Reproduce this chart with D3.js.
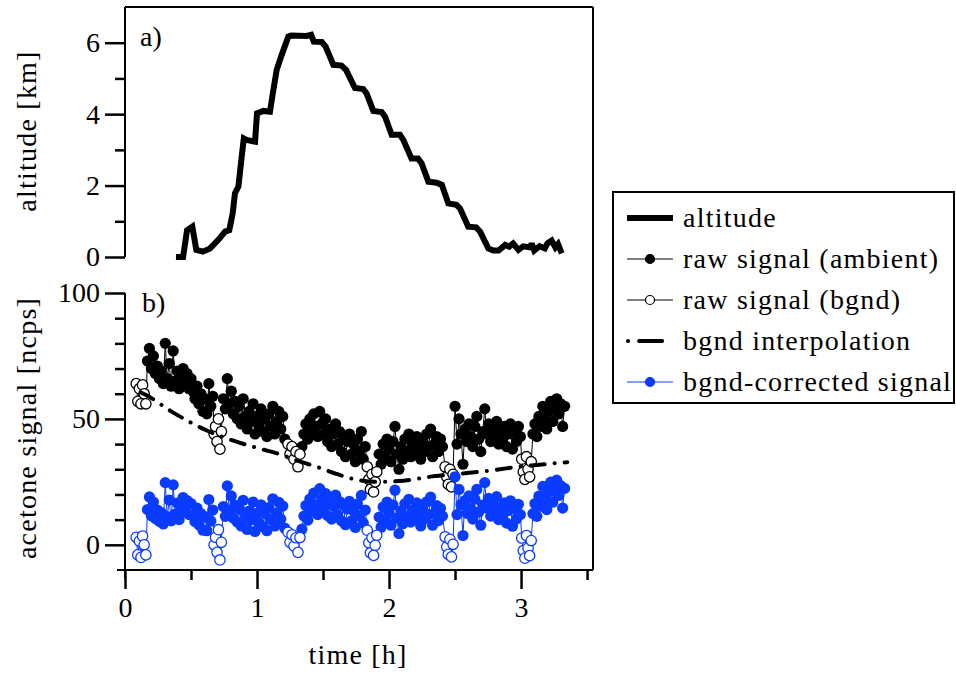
<!DOCTYPE html>
<html>
<head>
<meta charset="utf-8">
<script src="https://cdn.jsdelivr.net/npm/d3@7"></script>
<style>
  body { margin: 0; background: #fff; }
  text { fill: #000; }
</style>
</head>
<body>
<svg id="chart" width="956" height="675"></svg>
<script>
'use strict';

// altitude track (panel a)
const altTime = [0.386, 0.44, 0.47, 0.51, 0.54, 0.59, 0.644, 0.707, 0.758, 0.79, 0.816, 0.833, 0.859, 0.884, 0.90,
    0.92, 0.985, 1.0, 1.048, 1.098, 1.124, 1.149, 1.187, 1.237, 1.26, 1.376, 1.41, 1.43, 1.49, 1.52, 1.578, 1.64,
    1.674, 1.742, 1.805, 1.83, 1.881, 1.944, 1.97, 2.02, 2.083, 2.108, 2.17, 2.22, 2.247, 2.298, 2.361, 2.40, 2.449,
    2.51, 2.538, 2.60, 2.66, 2.69, 2.752, 2.79, 2.83, 2.88, 2.91, 2.94, 2.98, 3.017, 3.07, 3.08, 3.10, 3.14, 3.18,
    3.20, 3.232, 3.26, 3.28, 3.308];
const altKm = [0.0, 0.0, 0.75, 0.85, 0.2, 0.15, 0.24, 0.48, 0.71, 0.75, 1.23, 1.79, 1.97, 2.81, 3.32,
    3.28, 3.23, 4.02, 4.09, 4.07, 4.68, 5.24, 5.66, 6.17, 6.2, 6.19, 6.22, 6.03, 6.02, 5.89, 5.38, 5.36,
    5.24, 4.73, 4.7, 4.58, 4.09, 4.06, 3.93, 3.42, 3.42, 3.28, 2.76, 2.76, 2.62, 2.11, 2.08, 2.02, 1.5,
    1.46, 1.36, 0.85, 0.83, 0.71, 0.24, 0.18, 0.18, 0.34, 0.29, 0.38, 0.2, 0.3, 0.27, 0.38, 0.18, 0.3, 0.24,
    0.38, 0.46, 0.27, 0.36, 0.1];

// ambient measurement segments, one sample every SAMPLE_STEP hours
const SAMPLE_STEP = 0.015;
const ambientStart = [0.17, 0.745, 1.34, 1.925, 2.50, 3.09];
const ambientRaw = [
    [73, 78, 70, 75, 68, 71, 66, 69, 64, 80, 66, 72, 63, 77, 65, 69, 62, 67, 70, 64, 68, 62, 66, 61, 58, 63, 56, 60, 53, 58, 52, 64, 55, 59],
    [58, 54, 66, 56, 61, 52, 57, 50, 55, 48, 58, 51, 46, 53, 49, 56, 44, 51, 47, 54, 45, 50, 43, 52, 47, 55, 44, 49, 53, 46, 51, 42],
    [39, 44, 48, 42, 50, 45, 52, 47, 43, 53, 48, 44, 50, 41, 46, 39, 44, 48, 40, 45, 37, 43, 35, 41, 44, 36, 40, 33, 42, 37, 45, 34, 39],
    [36, 32, 40, 35, 42, 38, 33, 41, 47, 36, 30, 39, 34, 42, 37, 44, 35, 40, 36, 43, 38, 34, 41, 37, 44, 39, 46, 35, 40, 43, 37, 42, 39],
    [55, 40, 50, 44, 32, 46, 41, 48, 43, 39, 47, 51, 42, 37, 45, 54, 44, 48, 41, 46, 43, 49, 40, 45, 42, 47, 39, 44, 48, 38, 45, 41, 47, 43],
    [44, 48, 43, 51, 47, 55, 50, 46, 53, 57, 49, 54, 58, 52, 56, 47, 55]
];
const ambientCorr = [
    [14, 19, 11.5, 17, 10.4, 13.8, 9.3, 12.8, 8.3, 24.7, 11.2, 17.8, 9.5, 23.8, 12.2, 16.6, 10, 15.4, 18.8, 13.2, 17.6, 12, 16.4, 11.8, 9.2, 14.6, 8, 12.4, 5.8, 11.2, 5.6, 18, 9.4, 13.8],
    [15.2, 11.3, 23.4, 13.6, 19.4, 10.6, 15.8, 9, 14.2, 7.5, 17.7, 10.9, 6.1, 13.4, 9.8, 17, 5.3, 12.5, 8.7, 15.9, 7.2, 12.4, 5.6, 14.8, 10, 18.3, 7.5, 12.7, 16.9, 10.2, 15.4, 6.6],
    [6.2, 11.4, 15.6, 9.8, 18.2, 13.3, 20.5, 15.8, 12, 22.3, 17.8, 14, 20.3, 11.6, 16.9, 10.2, 15.4, 19.7, 11.9, 17.2, 9.5, 15.7, 8, 14.2, 17.3, 9.5, 13.7, 6.9, 16.2, 11.4, 19.6, 8.7, 13.8],
    [11, 7, 15, 10, 17, 12.8, 7.8, 15.8, 21.7, 10.6, 4.5, 13.4, 8.4, 16.3, 11.2, 18.1, 9, 13.9, 9.8, 16.7, 11.6, 7.5, 14.3, 10.2, 17.1, 12, 18.9, 7.8, 12.7, 15.6, 9.6, 14.5, 11.4],
    [27, 12, 22, 16, 3.7, 17.6, 12.5, 19.4, 14.3, 10.2, 18.1, 22, 13, 7.8, 15.8, 24.7, 14.6, 18.5, 11.4, 16.3, 13.2, 19.1, 10, 14.9, 11.8, 16.7, 8.6, 13.6, 17.5, 7.4, 14.3, 10.2, 16.1, 12],
    [12.4, 16.4, 11.3, 19.3, 15.3, 23.2, 18.1, 14, 21, 24.9, 16.9, 21.8, 25.7, 19.6, 23.5, 14.6, 22.4]
];

// background (zero air) measurement groups
const bgndTime = [
    [0.085, 0.097, 0.109, 0.121, 0.133, 0.145, 0.158],
    [0.675, 0.686, 0.697, 0.708, 0.719, 0.73],
    [1.235, 1.25, 1.265, 1.28, 1.295, 1.31, 1.325],
    [1.835, 1.847, 1.859, 1.871, 1.883, 1.895, 1.907],
    [2.425, 2.437, 2.449, 2.461, 2.473, 2.485],
    [3.005, 3.017, 3.029, 3.041, 3.053, 3.065, 3.077]
];
const bgndRaw = [
    [64, 57, 62, 56, 63.5, 60, 56],
    [44, 47, 41, 50, 38, 45],
    [40, 36, 39, 34, 37, 31, 36],
    [31, 26, 22, 28, 21, 25, 29],
    [31, 27, 24, 30, 23, 28],
    [34, 29, 26, 35, 30, 27, 33]
];
const bgndCorr = [
    [3, -4, 1.5, -5, 3.5, 0, -4],
    [0, 3, -3, 6, -6, 1],
    [5, 1, 4, -0.5, 2.8, -3, 2.9],
    [5.8, 0.8, -3.2, 2.8, -4.2, -0.2, 3.8],
    [3.2, -0.8, -3.8, 2.2, -4.8, 0.2],
    [2.7, -2.3, -5.3, 3.7, -1.3, -4.3, 1.7]
];

// background interpolation curve
const interpTime = [0.12, 0.16, 0.35, 0.62, 0.80, 1.0, 1.2, 1.3, 1.48, 1.6, 1.76, 1.9, 2.07, 2.35, 2.65, 2.84, 2.95, 3.12, 3.26, 3.35];
const interpValue = [60.5, 59.5, 53, 45.4, 41.7, 38.5, 35.5, 33.5, 30.5, 28.2, 25.8, 25.0, 25.3, 27.3, 28.8, 30, 30.8, 31.7, 32.4, 32.8];

const xMajorTicks = [0, 1, 2, 3];
const xMinorTicks = [0.5, 1.5, 2.5, 3.5];
const altMajorTicks = [0, 2, 4, 6];
const altMinorTicks = [1, 3, 5];
const sigMajorTicks = [0, 50, 100];
const sigMinorTicks = [10, 20, 30, 40, 60, 70, 80, 90];

const legendLabels = ["altitude", "raw signal (ambient)", "raw signal (bgnd)", "bgnd interpolation", "bgnd-corrected signal"];

const BLUE = "#0a3cff";

// pick a serif font that is really installed (else a light sans), sized like the original
function pickFont() {
    let ctx = document.createElement("canvas").getContext("2d");
    let probe = "raw signal (ambient) 0123";
    function width(f) { ctx.font = "40px " + f; return ctx.measureText(probe).width; }
    let mono = width("monospace"), sans = width("sans-serif");
    let candidates = ["Liberation Serif", "DejaVu Serif", "Noto Serif", "Liberation Sans"];
    let family = "Liberation Sans";
    for (let c of candidates) {
        let w1 = width(`"${c}", monospace`), w2 = width(`"${c}", sans-serif`);
        if (w1 !== mono && Math.abs(w1 - w2) < 0.01) { family = c; break; }
    }
    ctx.font = `28px "${family}"`;
    let w = ctx.measureText("raw signal (ambient)").width;
    let size = Math.min(28, 28 * 255 / w);
    ctx.font = `${size}px "${family}"`;
    let spacing = Math.max(0, (255 - ctx.measureText("raw signal (ambient)").width) / 19);
    return { family: `"${family}", sans-serif`, size, spacing };
}

const FONT = pickFont();

function setFont(sel, spaced) {
    sel.style("font-family", FONT.family)
        .style("font-size", FONT.size + "px");
    if (spaced) sel.style("letter-spacing", FONT.spacing + "px");
    return sel;
}

function buildSeries() {
    let pts = [];
    ambientStart.forEach((t0, s) => {
        ambientRaw[s].forEach((v, i) => {
            pts.push({ t: t0 + i * SAMPLE_STEP, raw: v, corr: ambientCorr[s][i], bg: false });
        });
    });
    bgndTime.forEach((times, g) => {
        times.forEach((t, i) => {
            pts.push({ t: t, raw: bgndRaw[g][i], corr: bgndCorr[g][i], bg: true });
        });
    });
    pts.sort((a, b) => a.t - b.t);
    return pts;
}

function getConfig() {
    let svg = d3.select("#chart");
    let left = 125, right = 593;
    let top = { y0: 257, y1: 7 };
    let bottom = { y0: 570, y1: 293 };
    return { svg, left, right, top, bottom };
}

function getScales(config) {
    let { left, right, top, bottom } = config;
    let x = d3.scaleLinear().domain([0, 3.545]).range([left, right]);
    let yAlt = d3.scaleLinear().domain([0, 7]).range([top.y0, top.y1]);
    let ySig = d3.scaleLinear().domain([-10, 100]).range([bottom.y0, bottom.y1]);
    return { x, yAlt, ySig };
}

function styleAxis(g) {
    g.select(".domain").remove();
    g.selectAll(".tick line").attr("stroke", "#000").attr("stroke-width", 2.5);
    setFont(g.selectAll(".tick text"), false);
}

function drawAxes(config, scales) {
    let { svg, left, right, top, bottom } = config;
    let { x, yAlt, ySig } = scales;
    let fmt = d3.format("d");

    // frame lines
    let frame = svg.append("g").attr("stroke", "#000").attr("stroke-width", 2).attr("fill", "none");
    frame.append("line").attr("x1", left).attr("x2", right).attr("y1", top.y1).attr("y2", top.y1);
    frame.append("line").attr("x1", left).attr("x2", left).attr("y1", top.y1).attr("y2", top.y0);
    frame.append("line").attr("x1", right).attr("x2", right).attr("y1", top.y1).attr("y2", bottom.y0);
    frame.append("line").attr("x1", left).attr("x2", left).attr("y1", bottom.y1).attr("y2", bottom.y0 + 8);
    frame.append("line").attr("x1", left - 8).attr("x2", right).attr("y1", bottom.y0).attr("y2", bottom.y0);

    svg.append("g").attr("transform", `translate(${left},0)`)
        .call(d3.axisLeft(yAlt).tickValues(altMajorTicks).tickFormat(fmt).tickSize(20).tickPadding(5))
        .call(styleAxis);
    svg.append("g").attr("transform", `translate(${left},0)`)
        .call(d3.axisLeft(yAlt).tickValues(altMinorTicks).tickSize(10).tickFormat(""))
        .call(styleAxis);

    svg.append("g").attr("transform", `translate(${left},0)`)
        .call(d3.axisLeft(ySig).tickValues(sigMajorTicks).tickFormat(fmt).tickSize(20).tickPadding(5))
        .call(styleAxis);
    svg.append("g").attr("transform", `translate(${left},0)`)
        .call(d3.axisLeft(ySig).tickValues(sigMinorTicks).tickSize(10).tickFormat(""))
        .call(styleAxis);

    svg.append("g").attr("transform", `translate(0,${bottom.y0})`)
        .call(d3.axisBottom(x).tickValues(xMajorTicks).tickFormat(fmt).tickSize(19).tickPadding(8))
        .call(styleAxis);
    svg.append("g").attr("transform", `translate(0,${bottom.y0})`)
        .call(d3.axisBottom(x).tickValues(xMinorTicks).tickSize(10).tickFormat(""))
        .call(styleAxis);

    // titles
    setFont(svg.append("text"), true)
        .attr("transform", "translate(36," + 131 + ") rotate(-90)")
        .attr("text-anchor", "middle")
        .text("altitude [km]");
    setFont(svg.append("text"), true)
        .attr("transform", "translate(36," + 428 + ") rotate(-90)")
        .attr("text-anchor", "middle")
        .text("acetone signal [ncps]");
    setFont(svg.append("text"), true)
        .attr("x", 358).attr("y", 664)
        .attr("text-anchor", "middle")
        .text("time [h]");

    setFont(svg.append("text"), false).attr("x", 140).attr("y", 46).text("a)");
    setFont(svg.append("text"), false).attr("x", 142).attr("y", 312).text("b)");
}

function drawAltitude(config, scales) {
    let { svg } = config;
    let { x, yAlt } = scales;
    let line = d3.line().x((d, i) => x(altTime[i])).y(d => yAlt(d));
    svg.append("path")
        .datum(altKm)
        .attr("d", line)
        .attr("fill", "none")
        .attr("stroke", "#000")
        .attr("stroke-width", 6)
        .attr("stroke-linejoin", "miter")
        .attr("stroke-miterlimit", 3);
}

function drawSignal(config, scales, series) {
    let { svg } = config;
    let { x, ySig } = scales;

    let rawLine = d3.line().x(d => x(d.t)).y(d => ySig(d.raw));
    let corrLine = d3.line().x(d => x(d.t)).y(d => ySig(d.corr));

    svg.append("path").datum(series).attr("d", rawLine)
        .attr("fill", "none").attr("stroke", "#000").attr("stroke-width", 1);

    svg.append("g").selectAll("circle")
        .data(series.filter(d => !d.bg))
        .enter().append("circle")
        .attr("cx", d => x(d.t)).attr("cy", d => ySig(d.raw))
        .attr("r", 5.6).attr("fill", "#000");

    svg.append("g").selectAll("circle")
        .data(series.filter(d => d.bg))
        .enter().append("circle")
        .attr("cx", d => x(d.t)).attr("cy", d => ySig(d.raw))
        .attr("r", 5.2).attr("fill", "#fff").attr("stroke", "#000").attr("stroke-width", 1.3);

    let interpLine = d3.line()
        .x((d, i) => x(interpTime[i])).y(d => ySig(d))
        .curve(d3.curveMonotoneX);
    svg.append("path").datum(interpValue).attr("d", interpLine)
        .attr("fill", "none").attr("stroke", "#000").attr("stroke-width", 4)
        .attr("stroke-linecap", "round")
        .attr("stroke-dasharray", "14,10,0.1,10");

    svg.append("path").datum(series).attr("d", corrLine)
        .attr("fill", "none").attr("stroke", BLUE).attr("stroke-width", 1);

    svg.append("g").selectAll("circle")
        .data(series.filter(d => !d.bg))
        .enter().append("circle")
        .attr("cx", d => x(d.t)).attr("cy", d => ySig(d.corr))
        .attr("r", 5.6).attr("fill", BLUE);

    svg.append("g").selectAll("circle")
        .data(series.filter(d => d.bg))
        .enter().append("circle")
        .attr("cx", d => x(d.t)).attr("cy", d => ySig(d.corr))
        .attr("r", 5.2).attr("fill", "#fff").attr("stroke", BLUE).attr("stroke-width", 1.3);
}

function drawLegend(config) {
    let { svg } = config;
    let box = { x: 613, y: 192, w: 341, h: 211 };
    svg.append("rect")
        .attr("x", box.x).attr("y", box.y).attr("width", box.w).attr("height", box.h)
        .attr("fill", "#fff").attr("stroke", "#000").attr("stroke-width", 2);

    let rows = svg.selectAll(".legendRow")
        .data(legendLabels)
        .enter().append("g")
        .attr("class", "legendRow")
        .attr("transform", (d, i) => "translate(627," + (218 + i * 41) + ")");

    setFont(rows.append("text"), true)
        .attr("x", 56).attr("y", 9)
        .text(d => d);

    rows.each(function (d, i) {
        let g = d3.select(this);
        if (i === 0) {
            g.append("line").attr("x1", 0).attr("x2", 46).attr("stroke", "#000").attr("stroke-width", 6);
        } else if (i === 3) {
            g.append("line").attr("x1", 1).attr("x2", 46)
                .attr("stroke", "#000").attr("stroke-width", 4).attr("stroke-linecap", "round")
                .attr("stroke-dasharray", "0.1,11,23,11");
        } else {
            let col = i === 4 ? BLUE : "#000";
            g.append("line").attr("x1", 0).attr("x2", 46).attr("stroke", col).attr("stroke-width", 1);
            g.append("circle").attr("cx", 23).attr("r", 4.5)
                .attr("fill", i === 2 ? "#fff" : col)
                .attr("stroke", col).attr("stroke-width", 1.2);
        }
    });
}

function drawChart() {
    let series = buildSeries();
    let config = getConfig();
    let scales = getScales(config);
    drawAltitude(config, scales);
    drawSignal(config, scales, series);
    drawAxes(config, scales);
    drawLegend(config);
}

drawChart();
</script>
</body>
</html>
